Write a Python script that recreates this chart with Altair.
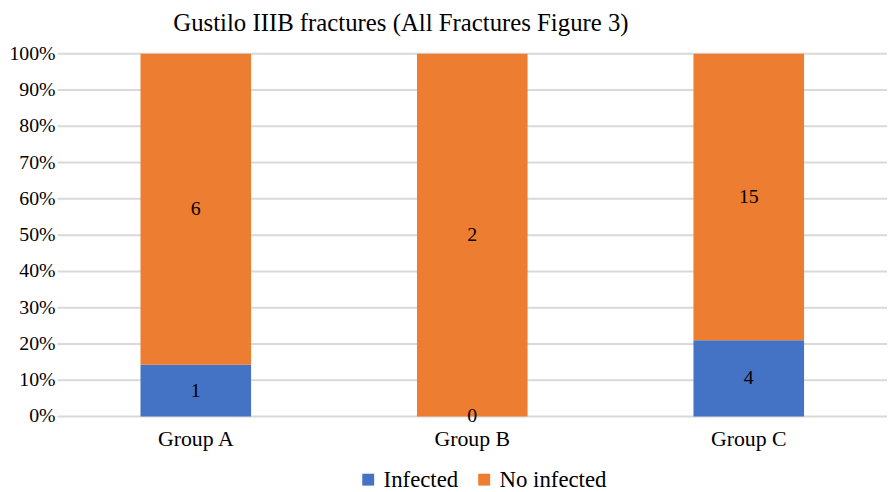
import altair as alt
import pandas as pd

groups = ["Group A", "Group B", "Group C"]
infected = [1, 0, 4]
no_infected = [6, 2, 15]
series = ["Infected", "No infected"]
colors = ["#4472C4", "#ED7D31"]
y_ticks = [0.0, 0.1, 0.2, 0.3, 0.4, 0.5, 0.6, 0.7, 0.8, 0.9, 1.0]

rows = []
for g, a, b in zip(groups, infected, no_infected):
    rows.append({"group": g, "series": series[0], "order": 0, "count": a})
    rows.append({"group": g, "series": series[1], "order": 1, "count": b})
df = pd.DataFrame(rows)
ticks_df = pd.DataFrame({"v": y_ticks})

FONT = "Liberation Serif"

base = alt.Chart(df).transform_joinaggregate(
    total="sum(count)", groupby=["group"]
).transform_calculate(
    pct="datum.count / datum.total"
).transform_stack(
    stack="pct", groupby=["group"], as_=["y0", "y1"],
    sort=[alt.SortField("order", order="ascending")]
).transform_calculate(
    mid="(datum.y0 + datum.y1) / 2"
)

x_axis = alt.Axis(labelAngle=0, labelFont=FONT, labelFontSize=22,
                  labelColor="black", labelPadding=12,
                  domain=False, ticks=False, grid=False)
x_scale = alt.Scale(paddingInner=0.6, paddingOuter=0.3)
y_scale = alt.Scale(domain=[0, 1], nice=False)

grid = alt.Chart(ticks_df).mark_rule(color="#D9D9D9", strokeWidth=2).encode(
    y=alt.Y("v:Q", title=None, scale=y_scale, axis=None),
)

ylabels = alt.Chart(ticks_df).mark_text(
    font=FONT, fontSize=20, color="black", align="right", baseline="middle", dx=-2
).encode(
    x=alt.value(0),
    y=alt.Y("v:Q", title=None, scale=y_scale, axis=None),
    text=alt.Text("v:Q", format=".0%"),
)

bars = base.mark_bar().encode(
    x=alt.X("group:N", sort=groups, title=None, scale=x_scale, axis=x_axis),
    y=alt.Y("y0:Q", title=None, scale=y_scale, axis=None),
    y2="y1:Q",
    color=alt.Color("series:N", sort=series,
                    scale=alt.Scale(domain=series, range=colors),
                    legend=alt.Legend(title=None, orient="none", direction="horizontal",
                                      legendX=302, legendY=418,
                                      symbolType="square", symbolSize=144,
                                      symbolStrokeWidth=0,
                                      labelFont=FONT, labelFontSize=23,
                                      labelColor="black", labelOffset=4,
                                      columnPadding=14)),
)

labels = base.mark_text(font=FONT, fontSize=20, color="black", baseline="middle").encode(
    x=alt.X("group:N", sort=groups, title=None, scale=x_scale, axis=x_axis),
    y=alt.Y("mid:Q", title=None, scale=y_scale, axis=None),
    text=alt.Text("count:Q"),
)

chart = alt.layer(grid, bars, labels, ylabels).properties(
    width=837,
    height=366,
    autosize=alt.AutoSizeParams(type="none"),
    padding={"left": 50, "top": 44, "right": 1, "bottom": 74},
    title=alt.TitleParams("Gustilo IIIB fractures (All Fractures Figure 3)",
                          font=FONT, fontSize=25, fontWeight="normal",
                          color="black", anchor="middle", dx=-72, offset=8),
).configure_view(stroke=None)

chart.save("out.html", embed_options={"renderer": "svg", "actions": False})
